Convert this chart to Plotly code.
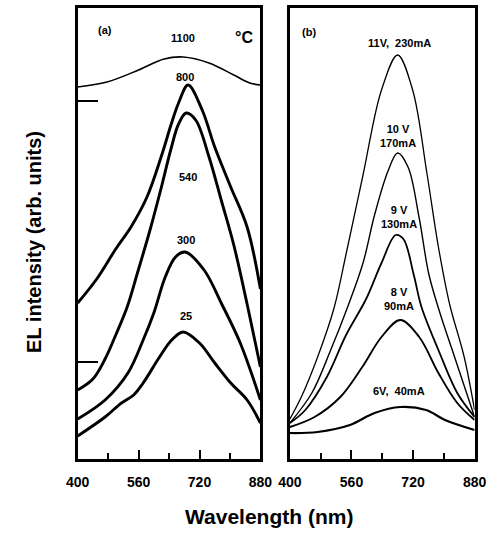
import plotly.graph_objects as go

# ---------------- Panel (a): annealing temperature (°C) ----------------
wl_a_1100 = [400, 477, 560, 627, 677, 745, 810, 852, 880]
int_a_1100 = [372, 377, 389, 400, 402, 396, 384, 376, 374]

wl_a_800 = [400, 450, 500, 540, 582, 620, 645, 665, 690, 727, 760, 802, 845, 880]
int_a_800 = [156, 180, 210, 232, 262, 303, 334, 356, 374, 349, 312, 272, 232, 170]

wl_a_540 = [400, 440, 472, 500, 530, 557, 590, 620, 645, 665, 685, 710, 745, 777, 810, 845, 880]
int_a_540 = [69, 80, 100, 124, 152, 186, 229, 272, 310, 335, 346, 339, 302, 259, 214, 155, 92]

wl_a_300 = [400, 472, 532, 572, 600, 630, 657, 682, 732, 777, 827, 880]
int_a_300 = [40, 59, 86, 119, 146, 182, 202, 207, 189, 156, 116, 59]

wl_a_25 = [400, 472, 515, 547, 572, 615, 647, 677, 720, 760, 802, 845, 880]
int_a_25 = [23, 42, 56, 64, 76, 102, 119, 127, 116, 96, 76, 59, 36]

# ---------------- Panel (b): drive voltage / current ----------------
wl_b_11v = [400, 432, 472, 514, 546, 590, 638, 680, 719, 756, 786, 815, 853, 880]
int_b_11v = [40, 64, 102, 150, 205, 284, 369, 404, 369, 286, 212, 155, 102, 49]

wl_b_10v = [400, 457, 506, 550, 590, 620, 655, 680, 707, 736, 761, 790, 828, 880]
int_b_10v = [36, 66, 109, 152, 196, 244, 288, 306, 292, 241, 185, 146, 102, 42]

wl_b_9v = [400, 440, 496, 546, 598, 638, 675, 695, 722, 742, 786, 835, 880]
int_b_9v = [36, 49, 82, 124, 160, 196, 224, 220, 184, 152, 109, 66, 42]

wl_b_8v = [400, 464, 531, 588, 638, 687, 736, 786, 835, 880]
int_b_8v = [32, 42, 62, 92, 122, 139, 122, 86, 56, 39]

wl_b_6v = [400, 472, 556, 620, 687, 754, 803, 880]
int_b_6v = [26, 27, 34, 46, 52, 49, 39, 29]

# tick labels
x_tick_vals = [400, 560, 720, 880]
x_tick_text = ["400", "560", "720", "880"]
y_marker_vals_a = [358, 97]

FONT = "Liberation Sans, Arial, Helvetica, sans-serif"
W, H = 498, 534

fig = go.Figure()

def add(x, y, width, axis):
    fig.add_trace(go.Scatter(
        x=x, y=y, mode="lines",
        line=dict(color="black", width=width, shape="spline", smoothing=1.0),
        xaxis="x" if axis == 1 else "x2", yaxis="y" if axis == 1 else "y2",
        showlegend=False, hoverinfo="skip"))

add(wl_a_1100, int_a_1100, 1.6, 1)
add(wl_a_800, int_a_800, 2.9, 1)
add(wl_a_540, int_a_540, 2.9, 1)
add(wl_a_300, int_a_300, 2.9, 1)
add(wl_a_25, int_a_25, 2.9, 1)

add(wl_b_11v, int_b_11v, 1.3, 2)
add(wl_b_10v, int_b_10v, 1.4, 2)
add(wl_b_9v, int_b_9v, 1.8, 2)
add(wl_b_8v, int_b_8v, 1.9, 2)
add(wl_b_6v, int_b_6v, 2.2, 2)

ydom = [(H - 459) / H, (H - 8) / H]

xcommon = dict(
    range=[400, 880], showgrid=False, zeroline=False,
    showline=True, linecolor="black", mirror=True,
    ticks="inside", tickvals=x_tick_vals, ticktext=x_tick_text,
    ticklen=9, tickwidth=2, tickcolor="black",
    minor=dict(ticks="inside", tick0=400, dtick=80, ticklen=6, tickwidth=2, tickcolor="black"),
    tickfont=dict(family=FONT, size=14, color="black", weight="bold"),
    ticklabelstandoff=8,
)
ycommon = dict(range=[0, 451], showgrid=False, zeroline=False,
               showline=True, linecolor="black", mirror=True, showticklabels=False)

fig.update_layout(
    width=W, height=H, autosize=False,
    margin=dict(l=0, r=0, t=0, b=0),
    paper_bgcolor="white", plot_bgcolor="white",
    xaxis=dict(domain=[69 / W, 261 / W], linewidth=3, anchor="y", **xcommon),
    xaxis2=dict(domain=[292 / W, 486 / W], linewidth=2.5, anchor="y2", **xcommon),
    yaxis=dict(domain=ydom, linewidth=3, anchor="x",
               ticks="inside", tickvals=y_marker_vals_a, ticklen=20, tickwidth=1.6,
               tickcolor="black", **ycommon),
    yaxis2=dict(domain=ydom, linewidth=2.5, anchor="x2", ticks="", **ycommon),
)

def lab(x, y, text, axis, size=11):
    fig.add_annotation(x=x, y=y, text=text, showarrow=False,
                       xref="x" if axis == 1 else "x2", yref="y" if axis == 1 else "y2",
                       font=dict(family=FONT, size=size, color="black", weight="bold"),
                       xanchor="center", yanchor="middle")

lab(472, 429, "(a)", 1)
lab(677, 421, "1100", 1)
lab(837, 422, "°C", 1, size=16)
lab(682, 382, "800", 1)
lab(690, 282, "540", 1)
lab(685, 219, "300", 1)
lab(685, 143, "25", 1)

lab(449, 427, "(b)", 2)
lab(684, 416, "11V,\u00a0 230mA", 2)
lab(680, 323, "10 V<br>170mA", 2)
lab(684, 242, "9 V<br>130mA", 2)
lab(684, 160, "8 V<br>90mA", 2)
lab(684, 68, "6V,\u00a0 40mA", 2)

fig.add_annotation(x=23 / W, y=(H - 242) / H, xref="paper", yref="paper",
                   xanchor="center", yanchor="middle",
                   text="EL intensity (arb. units)", textangle=-90, showarrow=False,
                   font=dict(family=FONT, size=20, color="black", weight="bold"))
fig.add_annotation(x=270 / W, y=(H - 516) / H, xref="paper", yref="paper",
                   xanchor="center", yanchor="middle",
                   text="Wavelength (nm)", showarrow=False,
                   font=dict(family=FONT, size=21, color="black", weight="bold"))

fig.write_html("out.html", config={"displayModeBar": False},
               post_script="document.body.style.margin='0';document.body.style.overflow='hidden';")
